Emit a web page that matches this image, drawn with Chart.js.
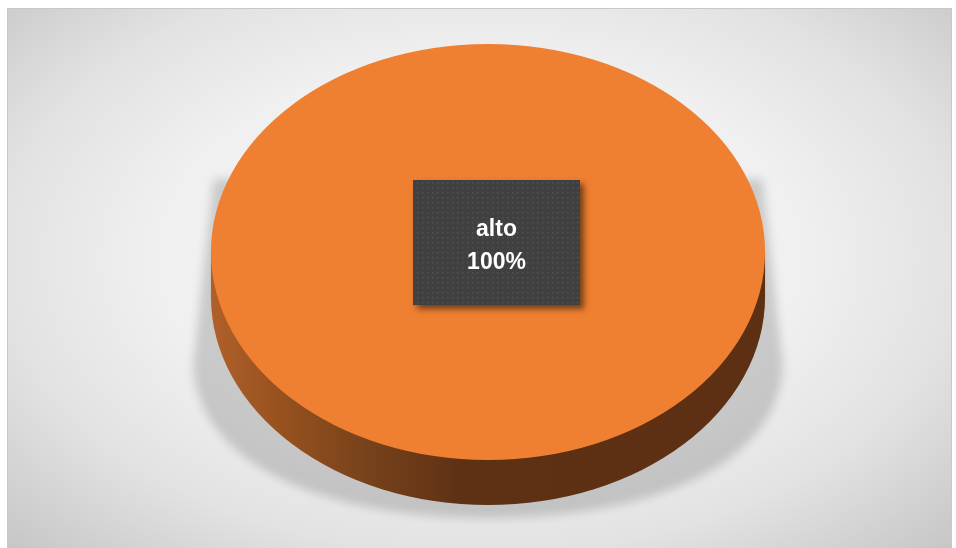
<!DOCTYPE html>
<html>
<head>
<meta charset="utf-8">
<script src="https://cdn.jsdelivr.net/npm/chart.js@4/dist/chart.umd.min.js"></script>
<style>
  html, body { margin: 0; padding: 0; background: #ffffff; width: 956px; height: 548px; overflow: hidden; }
  #frame {
    position: absolute; left: 7px; top: 8px; width: 945px; height: 541px;
    box-sizing: border-box; border: 1px solid #c8c8c8; border-bottom: none;
    background: radial-gradient(ellipse farthest-corner at 50% 46%, #f4f4f4 0%, #f0f0f0 48%, #e2e2e2 72%, #c6c6c6 100%);
  }
  #wrap { position: absolute; left: 0; top: 0; width: 956px; height: 548px; }
</style>
</head>
<body>
<div id="frame"></div>
<div id="wrap"><canvas id="c" width="956" height="548"></canvas></div>
<script>
// Series data
const categories = ['alto'];
const values = [100];
const sliceColors = ['#EF7F31'];

// 3D look: horizontal stretch of the circular pie and the thickness of its side
const STRETCH_X = 1.332;
const DEPTH = 45;

function arcGeometry(chart) {
  const arc = chart.getDatasetMeta(0).data[0];
  const r = arc.outerRadius;
  return { cx: arc.x, cy: arc.y, r, rx: r * STRETCH_X, ry: r };
}

const tiltPlugin = {
  id: 'tilt',
  beforeDatasetsDraw(chart) {
    const ctx = chart.ctx;
    const { cx, cy, r, rx, ry } = arcGeometry(chart);

    // soft floor shadow under the disc
    ctx.save();
    ctx.filter = 'blur(5px)';
    ctx.fillStyle = 'rgba(0,0,0,0.16)';
    ctx.beginPath();
    ctx.moveTo(cx - rx * 0.99, cy - ry * 0.35);
    ctx.lineTo(cx - rx * 1.065, cy + ry * 0.55);
    ctx.bezierCurveTo(cx - rx * 1.04, cy + ry * 1.05, cx - rx * 0.55, cy + ry + DEPTH + 13, cx, cy + ry + DEPTH + 13);
    ctx.bezierCurveTo(cx + rx * 0.55, cy + ry + DEPTH + 13, cx + rx * 1.04, cy + ry * 1.05, cx + rx * 1.065, cy + ry * 0.55);
    ctx.lineTo(cx + rx * 0.99, cy - ry * 0.35);
    ctx.closePath();
    ctx.fill();
    ctx.restore();

    // side wall of the disc
    ctx.save();
    ctx.translate(cx, cy);
    ctx.scale(STRETCH_X, 1);
    ctx.translate(-cx, -cy);
    const g = ctx.createLinearGradient(cx - r, 0, cx + r, 0);
    g.addColorStop(0, '#b0602a');
    g.addColorStop(0.12, '#98521f');
    g.addColorStop(0.3, '#74401a');
    g.addColorStop(0.45, '#5f3114');
    g.addColorStop(1, '#5d3013');
    ctx.fillStyle = g;
    ctx.beginPath();
    ctx.rect(cx - r, cy, 2 * r, DEPTH);
    ctx.fill();
    ctx.beginPath();
    ctx.arc(cx, cy + DEPTH, r, 0, Math.PI);
    ctx.fill();
    ctx.restore();

    // top face is stretched the same way
    ctx.save();
    ctx.translate(cx, cy);
    ctx.scale(STRETCH_X, 1);
    ctx.translate(-cx, -cy);
  },
  afterDatasetsDraw(chart) {
    chart.ctx.restore();
  }
};

function dotPattern(ctx) {
  const p = document.createElement('canvas');
  p.width = 5; p.height = 5;
  const pc = p.getContext('2d');
  pc.fillStyle = '#404040';
  pc.fillRect(0, 0, 5, 5);
  pc.fillStyle = '#525252';
  pc.fillRect(2, 2, 1.5, 1.5);
  return ctx.createPattern(p, 'repeat');
}

const labelPlugin = {
  id: 'sliceLabel',
  afterDatasetsDraw(chart) {
    const ctx = chart.ctx;
    const { cx, cy } = arcGeometry(chart);
    const total = values.reduce((a, b) => a + b, 0);
    const pct = Math.round(values[0] / total * 100) + '%';

    const bw = 167, bh = 125;
    const bx = cx - 75, by = cy - 72;
    ctx.save();
    ctx.shadowColor = 'rgba(0,0,0,0.5)';
    ctx.shadowBlur = 6;
    ctx.shadowOffsetX = 4;
    ctx.shadowOffsetY = 4;
    ctx.fillStyle = '#404040';
    ctx.fillRect(bx, by, bw, bh);
    ctx.restore();

    ctx.save();
    ctx.fillStyle = dotPattern(ctx);
    ctx.fillRect(bx, by, bw, bh);
    ctx.fillStyle = '#ffffff';
    ctx.font = 'bold 23px "Liberation Sans", Arial, sans-serif';
    ctx.textAlign = 'center';
    ctx.textBaseline = 'alphabetic';
    const tx = bx + bw / 2;
    ctx.fillText(categories[0], tx, cy - 16);
    ctx.fillText(pct, tx, cy + 17);
    ctx.restore();
  }
};

new Chart(document.getElementById('c').getContext('2d'), {
  type: 'pie',
  data: {
    labels: categories,
    datasets: [{
      data: values,
      backgroundColor: sliceColors,
      borderWidth: 0,
      hoverOffset: 0,
      clip: false
    }]
  },
  options: {
    responsive: false,
    animation: false,
    events: [],
    layout: { padding: { top: 44, bottom: 88, left: 211, right: 191 } },
    plugins: {
      legend: { display: false },
      tooltip: { enabled: false }
    }
  },
  plugins: [tiltPlugin, labelPlugin]
});
</script>
</body>
</html>
